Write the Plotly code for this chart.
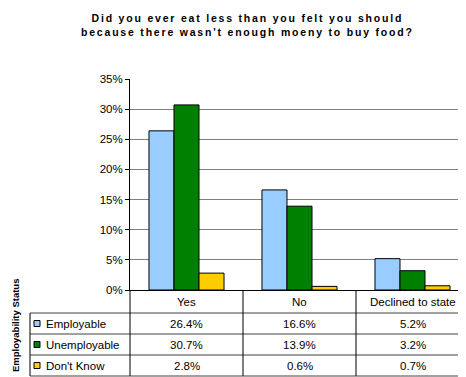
import plotly.graph_objects as go

categories = ["Yes", "No", "Declined to state"]
series_names = ["Employable", "Unemployable", "Don't Know"]
employable = [26.4, 16.6, 5.2]
unemployable = [30.7, 13.9, 3.2]
dont_know = [2.8, 0.6, 0.7]
y_ticks = [0, 5, 10, 15, 20, 25, 30, 35]
y_tick_labels = ["0%", "5%", "10%", "15%", "20%", "25%", "30%", "35%"]
colors = ["#99CCFF", "#008000", "#FFCC00"]
title_text = "Did you ever eat less than you felt you should<br>because there wasn't enough moeny to buy food?"
axis_title = "Employability Status"

series_values = [employable, unemployable, dont_know]

# page body has an 8px default margin
OFF = 8
W_FIG, H_FIG = 466 - OFF, 377 - OFF
L = 130 - OFF
T = 79 - OFF
B = H_FIG - (290 - OFF)
PW = W_FIG - L
PH = H_FIG - T - B
XR = [-0.5, -0.5 + PW / 113.0]
FONT = "Liberation Sans, Arial, sans-serif"


def px_x(px):
    return (px - OFF - L) / PW


def px_y(py):
    return (T + PH - (py - OFF)) / PH


def cat_x(v):
    return (v - XR[0]) / (XR[1] - XR[0])


fig = go.Figure()
for name, vals, col in zip(series_names, series_values, colors):
    fig.add_trace(go.Bar(
        x=categories, y=vals, name=name,
        marker=dict(color=col, line=dict(color="black", width=1)),
        showlegend=False,
    ))

shapes = []
line_col = "#404040"
row_edges = [313, 334, 355, 376]
for ry in row_edges:
    shapes.append(dict(type="line", xref="paper", yref="paper",
                       x0=px_x(30), x1=1.0, y0=px_y(ry), y1=px_y(ry),
                       line=dict(color=line_col, width=1)))
shapes.append(dict(type="line", xref="paper", yref="paper",
                   x0=px_x(30), x1=px_x(30), y0=px_y(313), y1=px_y(376),
                   line=dict(color="black", width=1)))
shapes.append(dict(type="line", xref="paper", yref="paper",
                   x0=0, x1=0, y0=0, y1=px_y(376),
                   line=dict(color="black", width=1)))
for i in range(len(categories) - 1):
    xp = cat_x(i + 0.5)
    shapes.append(dict(type="line", xref="paper", yref="paper",
                       x0=xp, x1=xp, y0=0, y1=px_y(376),
                       line=dict(color="black", width=1)))

annotations = []
for c in categories:
    annotations.append(dict(x=c, xref="x", y=px_y(301.5), yref="paper",
                            text=c, showarrow=False,
                            font=dict(family=FONT, size=11.5, color="black"),
                            xanchor="center", yanchor="middle"))
row_centers = [323.5, 344.5, 365.5]
for r, (name, vals, col) in enumerate(zip(series_names, series_values, colors)):
    cy = row_centers[r]
    shapes.append(dict(type="rect", xref="paper", yref="paper",
                       x0=px_x(34), x1=px_x(40), y0=px_y(cy - 3), y1=px_y(cy + 3),
                       fillcolor=col, line=dict(color="black", width=1)))
    annotations.append(dict(x=px_x(44), xref="paper", y=px_y(cy), yref="paper",
                            text=name, showarrow=False,
                            font=dict(family=FONT, size=11.5, color="black"),
                            xanchor="left", yanchor="middle"))
    for c, v in zip(categories, vals):
        annotations.append(dict(x=c, xref="x", y=px_y(cy), yref="paper",
                                text=f"{v:.1f}%", showarrow=False,
                                font=dict(family=FONT, size=11.5, color="black"),
                                xanchor="center", yanchor="middle"))

annotations.append(dict(x=px_x(15), xref="paper", y=px_y(326), yref="paper",
                        text="<b>" + axis_title + "</b>", textangle=-90,
                        showarrow=False,
                        font=dict(family=FONT, size=9.5, color="black"),
                        xanchor="center", yanchor="middle"))

annotations.append(dict(x=px_x(247), xref="paper", y=px_y(25), yref="paper",
                        text='<span style="letter-spacing:1.8px"><b>' + title_text + "</b></span>",
                        showarrow=False,
                        font=dict(family=FONT, size=10.5, color="black"),
                        xanchor="center", yanchor="middle"))

fig.update_layout(
    width=W_FIG, height=H_FIG,
    margin=dict(l=L, r=0, t=T, b=B, pad=0),
    paper_bgcolor="white", plot_bgcolor="white",
    barmode="group", bargap=0.336, bargroupgap=0,
    shapes=shapes, annotations=annotations,
    xaxis=dict(range=XR, showticklabels=False, showgrid=False, ticks="",
               showline=True, linecolor="black", linewidth=1, zeroline=False,
               fixedrange=True),
    yaxis=dict(range=[0, 35], tickvals=y_ticks, ticktext=y_tick_labels,
               showgrid=True, gridcolor="#808080", gridwidth=1,
               ticks="outside", ticklen=4, tickcolor="black",
               showline=True, linecolor="black", linewidth=1, zeroline=False,
               tickfont=dict(family=FONT, size=11.5, color="black"),
               fixedrange=True),
)

fig.write_html("out.html")
